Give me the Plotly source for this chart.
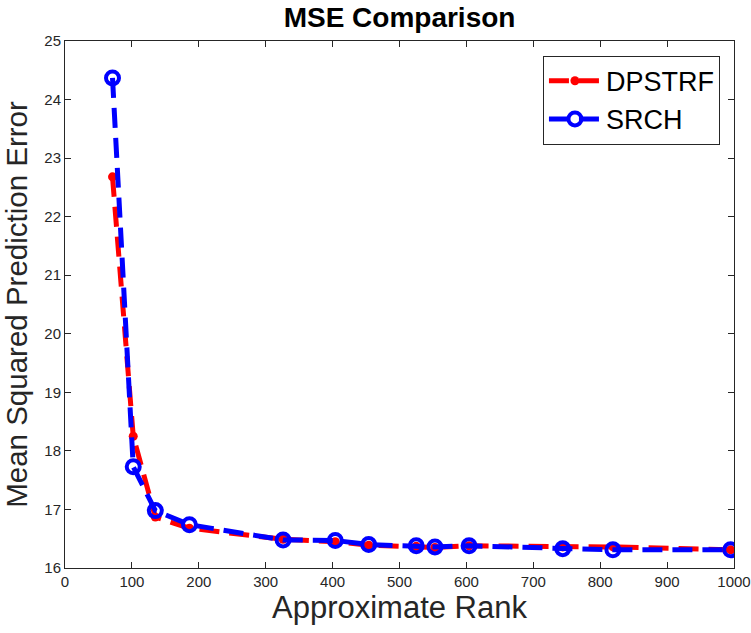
import plotly.graph_objects as go

rank = [71, 102, 135, 186, 326, 404, 454, 525, 553, 604, 744, 819, 995]
dpstrf = [22.68, 18.25, 16.87, 16.68, 16.49, 16.45, 16.39, 16.37, 16.35, 16.38, 16.36, 16.36, 16.31]
srch = [24.37, 17.73, 16.98, 16.74, 16.48, 16.47, 16.40, 16.38, 16.36, 16.38, 16.33, 16.31, 16.31]

FONT = "Liberation Sans"
AX = "#262626"

fig = go.Figure()
fig.add_trace(go.Scatter(
    x=rank, y=dpstrf, name="DPSTRF", mode="lines+markers",
    line=dict(color="#ff0000", width=5, dash="20px,10px"),
    marker=dict(symbol="circle", size=9, color="#ff0000"),
))
fig.add_trace(go.Scatter(
    x=rank, y=srch, name="SRCH", mode="lines+markers",
    line=dict(color="#0000ff", width=5, dash="20px,10px"),
    marker=dict(symbol="circle-open", size=13, color="#0000ff", line=dict(width=4, color="#0000ff")),
))

axis_common = dict(
    showgrid=False, zeroline=False, showline=True, mirror="ticks",
    linecolor=AX, linewidth=1, ticks="inside", ticklen=6, tickcolor=AX,
    tickfont=dict(family=FONT, size=15, color=AX), automargin=False,
)
fig.update_layout(
    width=751, height=633,
    margin=dict(l=65, r=17, t=41, b=65),
    paper_bgcolor="white", plot_bgcolor="white",
    title=dict(text="<b>MSE Comparison</b>", x=0.532, xanchor="center", y=0.973, yanchor="middle",
               font=dict(family=FONT, size=28, color="black")),
    xaxis=dict(range=[0, 1000], tickmode="linear", tick0=0, dtick=100,
               title=dict(text="Approximate Rank", font=dict(family=FONT, size=31, color=AX), standoff=6),
               **axis_common),
    yaxis=dict(range=[16, 25], tickmode="linear", tick0=16, dtick=1,
               title=dict(text="Mean Squared Prediction Error", font=dict(family=FONT, size=29.5, color=AX), standoff=12),
               **axis_common),
    legend=dict(x=0.979, y=0.972, xanchor="right", yanchor="top",
                bordercolor=AX, borderwidth=1, bgcolor="white",
                font=dict(family=FONT, size=27, color="black"), itemwidth=52),
    showlegend=True,
)
fig.write_html("out.html")
